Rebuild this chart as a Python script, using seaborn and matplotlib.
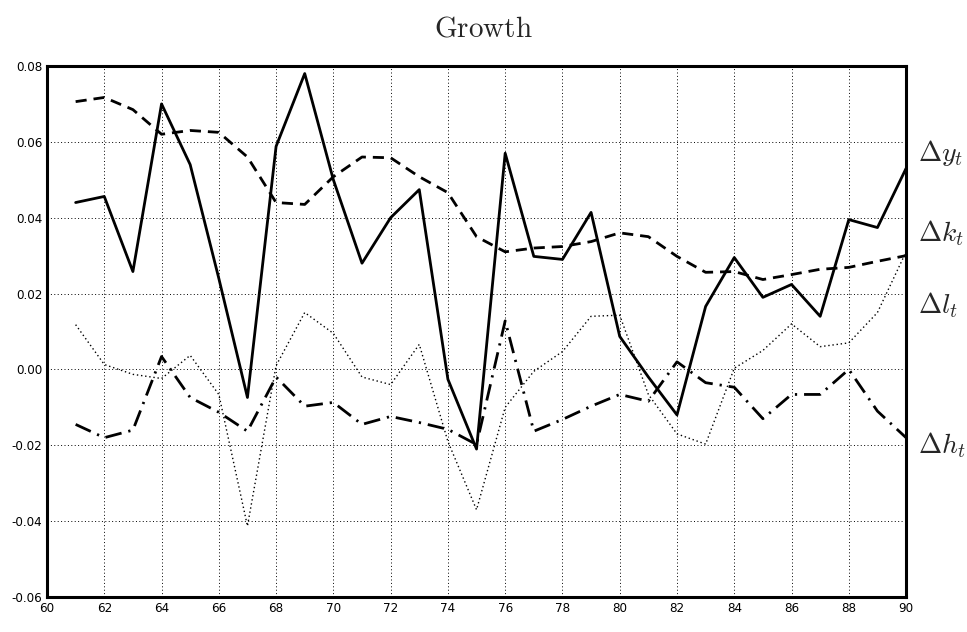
import numpy as np
import pandas as pd
import matplotlib
matplotlib.use("Agg")
import matplotlib.pyplot as plt
import seaborn as sns

sns.set_style("white")
plt.rcParams["font.family"] = ["Liberation Sans Narrow", "DejaVu Sans Condensed", "DejaVu Sans"]
plt.rcParams["mathtext.fontset"] = "cm"

years = list(range(61, 91))
dy = [0.044, 0.0456, 0.0258, 0.070, 0.054, 0.024, -0.0074, 0.0588, 0.078, 0.050,
      0.028, 0.040, 0.0474, -0.0026, -0.021, 0.057, 0.0298, 0.029, 0.0414, 0.0087,
      -0.002, -0.012, 0.0166, 0.0295, 0.019, 0.0224, 0.014, 0.0395, 0.0374, 0.053]
dk = [0.0706, 0.0717, 0.0685, 0.062, 0.063, 0.0625, 0.056, 0.044, 0.0435, 0.0508,
      0.056, 0.0558, 0.0508, 0.0466, 0.035, 0.031, 0.032, 0.0324, 0.0337, 0.036,
      0.035, 0.0298, 0.0256, 0.0258, 0.0237, 0.025, 0.0264, 0.0269, 0.0285, 0.030]
dl = [0.0118, 0.0013, -0.0013, -0.0024, 0.0037, -0.0066, -0.0413, 0.001, 0.015, 0.0095,
      -0.002, -0.004, 0.0066, -0.019, -0.037, -0.010, -0.0005, 0.0047, 0.014, 0.0143,
      -0.0066, -0.017, -0.0197, 0.0003, 0.005, 0.012, 0.006, 0.007, 0.015, 0.031]
dh = [-0.0145, -0.018, -0.016, 0.0034, -0.0074, -0.0113, -0.0163, -0.002, -0.0097, -0.0087,
      -0.0145, -0.0124, -0.014, -0.0158, -0.0198, 0.0128, -0.0163, -0.0132, -0.0097, -0.0066,
      -0.0084, 0.002, -0.0035, -0.0047, -0.013, -0.0066, -0.0066, 0.000, -0.011, -0.018]

labels = [r"$\Delta y_t$", r"$\Delta k_t$", r"$\Delta l_t$", r"$\Delta h_t$"]
label_y = [0.057, 0.036, 0.017, -0.020]
xticks = list(range(60, 91, 2))
yticks = [-0.06, -0.04, -0.02, 0.00, 0.02, 0.04, 0.06, 0.08]

fig = plt.figure(figsize=(9.67, 6.32), dpi=100)
ax = fig.add_axes([0.0486, 0.0554, 0.8884, 0.8402])

sns.lineplot(x=years, y=dy, ax=ax, color="black", lw=2.0)
sns.lineplot(x=years, y=dk, ax=ax, color="black", lw=2.0,
             linestyle=(0, (4, 2.5)))
sns.lineplot(x=years, y=dl, ax=ax, color="black", lw=1.0, linestyle=(0, (1, 2)))
sns.lineplot(x=years, y=dh, ax=ax, color="black", lw=2.0,
             linestyle=(0, (6, 2.5, 0.8, 2.5)))

ax.set_xlim(60, 90)
ax.set_ylim(-0.06, 0.08)
ax.set_xticks(xticks)
ax.set_xticklabels([str(t) for t in xticks])
ax.set_yticks(yticks)
ax.set_yticklabels([f"{t:.2f}" for t in yticks])
ax.set_yticks(np.arange(-0.06, 0.081, 0.01), minor=True)
ax.tick_params(axis="both", which="major", direction="in", length=5, width=1,
               labelsize=9.5, colors="black")
ax.tick_params(axis="y", which="minor", direction="in", length=3, width=0.8)
for t in ax.get_xticklabels() + ax.get_yticklabels():
    t.set_fontstretch("condensed")
ax.grid(True, which="major", color="black", linestyle=(0, (1, 2.5)), linewidth=0.7)
for s in ax.spines.values():
    s.set_color("black")
    s.set_linewidth(2.2)

for lab, yv in zip(labels, label_y):
    ax.text(90.4, yv, lab, fontsize=20, va="center", ha="left", clip_on=False)

fig.text(0.5, 0.955, r"$\mathrm{Growth}$", fontsize=21, ha="center", va="center")

fig.savefig("out.png", dpi=100)
